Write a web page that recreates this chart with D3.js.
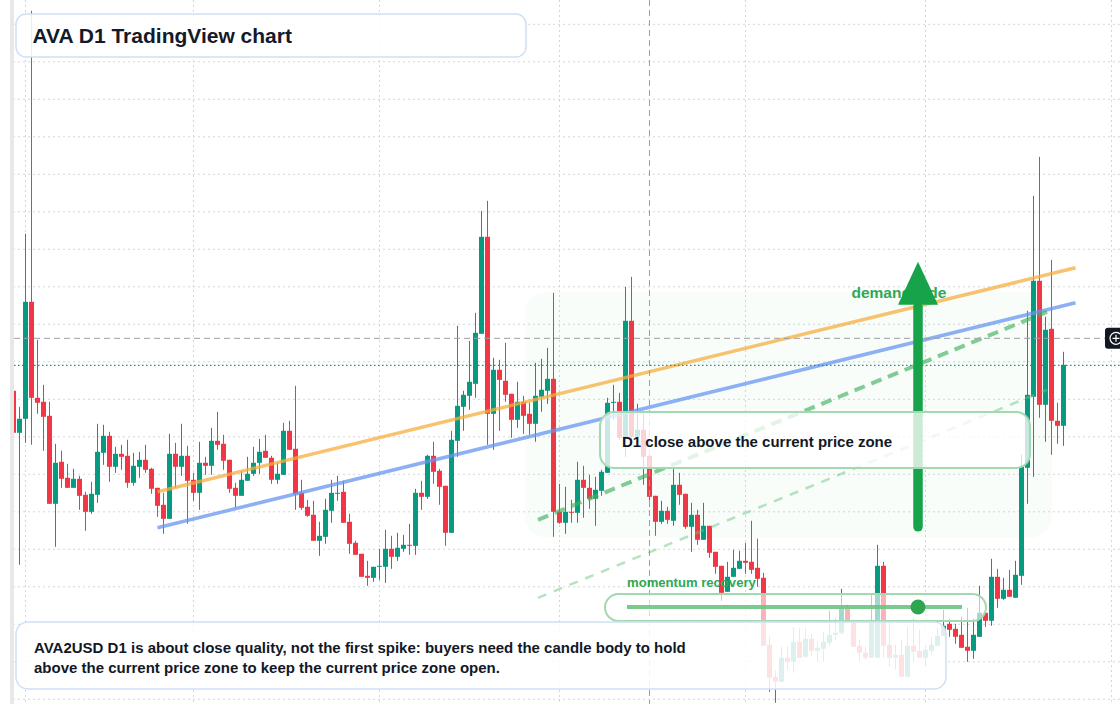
<!DOCTYPE html>
<html>
<head>
<meta charset="utf-8">
<script src="https://cdn.jsdelivr.net/npm/d3@7"></script>
<style>
html, body { margin: 0; padding: 0; background: #fff; }
#chart { width: 1120px; height: 704px; overflow: hidden; }
text { font-family: "Liberation Sans", Arial, sans-serif; font-weight: 700; }
</style>
</head>
<body>
<div id="chart"></div>
<script>
// daily candles, 2025-01-30 .. 2025-07-24
var days = d3.utcDay.range(new Date(Date.UTC(2025, 0, 30)), new Date(Date.UTC(2025, 6, 25)));

var open = [0.558,0.516,0.530,0.647,0.551,0.547,0.533,0.445,0.487,0.471,
  0.461,0.470,0.454,0.437,0.454,0.496,0.513,0.482,0.495,0.493,
  0.466,0.482,0.489,0.480,0.461,0.444,0.430,0.495,0.482,0.493,
  0.469,0.456,0.486,0.483,0.508,0.505,0.489,0.461,0.453,0.468,
  0.475,0.486,0.498,0.491,0.469,0.474,0.518,0.500,0.456,0.442,
  0.434,0.408,0.412,0.438,0.455,0.457,0.427,0.406,0.395,0.373,
  0.371,0.382,0.382,0.400,0.392,0.400,0.404,0.403,0.456,0.452,
  0.493,0.478,0.463,0.416,0.508,0.542,0.553,0.565,0.615,0.712,
  0.535,0.579,0.568,0.555,0.529,0.547,0.535,0.525,0.552,0.558,
  0.570,0.437,0.426,0.437,0.436,0.469,0.461,0.450,0.458,0.476,
  0.546,0.547,0.511,0.628,0.512,0.519,0.493,0.453,0.427,0.438,
  0.428,0.464,0.455,0.422,0.434,0.409,0.423,0.397,0.383,0.357,
  0.372,0.380,0.388,0.387,0.381,0.371,0.304,0.272,0.267,0.291,
  0.287,0.307,0.292,0.310,0.298,0.300,0.306,0.314,0.316,0.340,
  0.327,0.303,0.296,0.291,0.291,0.383,0.304,0.291,0.294,0.272,
  0.303,0.298,0.291,0.298,0.303,0.313,0.325,0.320,0.314,0.302,
  0.298,0.312,0.336,0.328,0.372,0.350,0.359,0.351,0.373,0.481,
  0.552,0.668,0.544,0.620,0.528,0.523];

var high = [0.558,0.542,0.715,0.938,0.609,0.564,0.547,0.505,0.498,0.485,
  0.480,0.473,0.457,0.467,0.525,0.524,0.517,0.502,0.504,0.509,
  0.496,0.497,0.504,0.481,0.461,0.456,0.515,0.506,0.525,0.503,
  0.476,0.507,0.492,0.521,0.537,0.514,0.489,0.466,0.478,0.492,
  0.502,0.510,0.514,0.493,0.486,0.526,0.528,0.563,0.469,0.449,
  0.448,0.427,0.450,0.469,0.473,0.468,0.435,0.408,0.395,0.388,
  0.382,0.400,0.419,0.413,0.416,0.414,0.425,0.460,0.468,0.494,
  0.507,0.480,0.463,0.518,0.623,0.558,0.608,0.636,0.738,0.748,
  0.591,0.589,0.606,0.555,0.567,0.553,0.546,0.586,0.590,0.601,
  0.656,0.465,0.462,0.449,0.487,0.483,0.474,0.472,0.479,0.551,
  0.564,0.556,0.662,0.672,0.545,0.535,0.497,0.453,0.448,0.442,
  0.481,0.476,0.455,0.446,0.439,0.446,0.423,0.397,0.383,0.387,
  0.399,0.398,0.406,0.428,0.410,0.376,0.312,0.278,0.302,0.302,
  0.322,0.321,0.321,0.315,0.308,0.317,0.338,0.330,0.360,0.344,
  0.329,0.309,0.302,0.355,0.404,0.387,0.326,0.304,0.309,0.322,
  0.330,0.319,0.304,0.312,0.321,0.339,0.330,0.325,0.332,0.341,
  0.330,0.363,0.339,0.390,0.380,0.371,0.379,0.388,0.494,0.638,
  0.753,0.792,0.632,0.689,0.546,0.597];

var low = [0.516,0.384,0.506,0.504,0.535,0.498,0.445,0.402,0.461,0.461,
  0.461,0.439,0.418,0.435,0.446,0.484,0.467,0.476,0.479,0.461,
  0.463,0.471,0.476,0.455,0.432,0.415,0.430,0.461,0.473,0.425,
  0.448,0.439,0.474,0.474,0.499,0.479,0.456,0.441,0.453,0.468,
  0.473,0.475,0.491,0.465,0.465,0.474,0.499,0.439,0.439,0.432,
  0.408,0.393,0.405,0.426,0.448,0.426,0.395,0.394,0.372,0.363,
  0.367,0.369,0.366,0.380,0.388,0.397,0.394,0.394,0.439,0.450,
  0.465,0.444,0.403,0.416,0.492,0.518,0.539,0.551,0.615,0.504,
  0.499,0.518,0.547,0.511,0.521,0.515,0.514,0.507,0.537,0.545,
  0.412,0.425,0.415,0.426,0.426,0.431,0.440,0.423,0.453,0.476,
  0.529,0.509,0.492,0.504,0.504,0.464,0.442,0.413,0.425,0.425,
  0.423,0.444,0.420,0.397,0.404,0.409,0.391,0.375,0.348,0.357,
  0.372,0.380,0.375,0.375,0.362,0.303,0.257,0.246,0.267,0.279,
  0.276,0.291,0.291,0.293,0.287,0.287,0.303,0.309,0.314,0.327,
  0.302,0.288,0.289,0.291,0.291,0.291,0.282,0.279,0.272,0.272,
  0.287,0.291,0.282,0.294,0.303,0.313,0.312,0.305,0.301,0.287,
  0.290,0.312,0.322,0.323,0.341,0.349,0.352,0.351,0.364,0.445,
  0.472,0.531,0.507,0.494,0.505,0.503];

var close = [0.516,0.530,0.647,0.551,0.546,0.532,0.445,0.486,0.470,0.461,
  0.470,0.453,0.437,0.455,0.497,0.513,0.482,0.495,0.492,0.466,
  0.483,0.489,0.479,0.460,0.443,0.430,0.495,0.482,0.493,0.468,
  0.456,0.486,0.483,0.508,0.504,0.488,0.460,0.453,0.469,0.475,
  0.486,0.497,0.491,0.469,0.475,0.518,0.499,0.455,0.441,0.433,
  0.408,0.413,0.439,0.456,0.456,0.426,0.405,0.394,0.372,0.371,
  0.382,0.383,0.400,0.392,0.401,0.404,0.403,0.456,0.452,0.493,
  0.477,0.462,0.416,0.509,0.543,0.554,0.567,0.616,0.712,0.535,
  0.579,0.569,0.554,0.529,0.547,0.533,0.525,0.553,0.559,0.570,
  0.437,0.426,0.437,0.436,0.469,0.461,0.450,0.459,0.477,0.546,
  0.547,0.511,0.628,0.512,0.519,0.492,0.452,0.427,0.438,0.429,
  0.464,0.454,0.422,0.434,0.409,0.423,0.396,0.382,0.356,0.372,
  0.381,0.388,0.386,0.379,0.370,0.303,0.271,0.267,0.291,0.287,
  0.307,0.291,0.310,0.298,0.301,0.307,0.314,0.316,0.340,0.327,
  0.302,0.296,0.291,0.329,0.383,0.303,0.291,0.294,0.272,0.303,
  0.297,0.291,0.299,0.304,0.313,0.323,0.319,0.312,0.301,0.298,
  0.314,0.336,0.328,0.372,0.350,0.359,0.352,0.374,0.482,0.554,
  0.668,0.544,0.619,0.528,0.523,0.584];

// hidden price grid (no labels on the picture)
var priceTicks = d3.range(0, 19).map(function (k) { return 0.25 + 0.0375 * k; });
var monthTicks = d3.utcMonth.range(new Date(Date.UTC(2025, 1, 1)), new Date(Date.UTC(2025, 7, 2)));

// drawings
var orangeLine = [["2025-02-23T00:00Z", 0.457], ["2025-07-26T00:00Z", 0.681]];
var blueLine = [["2025-02-23T00:00Z", 0.421], ["2025-07-26T00:00Z", 0.646]];
var channelUpper = [["2025-04-27T10:00Z", 0.429], ["2025-07-21T06:00Z", 0.637]];
var channelLower = [["2025-04-27T10:00Z", 0.351], ["2025-07-21T06:00Z", 0.559]];
var zoneDates = ["2025-04-25T06:00Z", "2025-07-22T02:00Z"];
var zonePrices = [0.657, 0.411];
var arrowDate = "2025-06-29T18:00Z";
var arrowPrices = [0.422, 0.644, 0.687];
var lastPrice = 0.5835;
var crossDate = "2025-05-16T00:00Z";
var crossPrice = 0.6105;

var noteLines = [
  "AVA2USD D1 is about close quality, not the first spike: buyers need the candle body to hold",
  "above the current price zone to keep the current price zone open."
];

var width = 1120, height = 704;
var upColor = "#089981", downColor = "#f23645";

var x = d3.scaleUtc()
  .domain([new Date(Date.UTC(2025, 1, 1)), new Date(Date.UTC(2025, 7, 1))])
  .range([25.5, 1111.5]);
var y = d3.scaleLinear()
  .domain([0.25, 0.70])
  .range([698.8, 248.8]);

var candles = days.map(function (d, i) {
  return { date: d, o: open[i], h: high[i], l: low[i], c: close[i] };
});

var svg = d3.select("#chart").append("svg")
  .attr("width", width)
  .attr("height", height);

svg.append("rect").attr("width", width).attr("height", height).attr("fill", "#fff");

// grid
var gy = svg.append("g")
  .attr("transform", "translate(" + width + ",0)")
  .call(d3.axisLeft(y).tickValues(priceTicks).tickSize(width - 14).tickFormat(""));
gy.select(".domain").remove();
gy.selectAll("line").attr("stroke", "#d3d6db").attr("stroke-dasharray", "2,3");

var gx = svg.append("g")
  .call(d3.axisBottom(x).tickValues(monthTicks).tickSize(height).tickFormat("").offset(0));
gx.select(".domain").remove();
gx.selectAll("line").attr("stroke", "#d3d6db").attr("stroke-dasharray", "2,3");

// candles
var cg = svg.append("g");
cg.selectAll("line.wick")
  .data(candles)
  .enter().append("line")
  .attr("class", "wick")
  .attr("x1", function (d) { return x(d.date); })
  .attr("x2", function (d) { return x(d.date); })
  .attr("y1", function (d) { return y(d.h); })
  .attr("y2", function (d) { return y(d.l); })
  .attr("stroke", function (d) { return d.c >= d.o ? upColor : downColor; })
  .attr("stroke-width", 1);

cg.selectAll("rect.body")
  .data(candles)
  .enter().append("rect")
  .attr("class", "body")
  .attr("x", function (d) { return x(d.date) - 2.5; })
  .attr("width", 5)
  .attr("y", function (d) { return y(Math.max(d.o, d.c)); })
  .attr("height", function (d) { return Math.max(1, Math.abs(y(d.o) - y(d.c))); })
  .attr("fill", function (d) { return d.c >= d.o ? upColor : downColor; });

// demand zone
svg.append("rect")
  .attr("x", x(new Date(zoneDates[0])))
  .attr("y", y(zonePrices[0]))
  .attr("width", x(new Date(zoneDates[1])) - x(new Date(zoneDates[0])))
  .attr("height", y(zonePrices[1]) - y(zonePrices[0]))
  .attr("rx", 22)
  .attr("fill", "#22c55e")
  .attr("fill-opacity", 0.03);

var line = d3.line()
  .x(function (d) { return x(new Date(d[0])); })
  .y(function (d) { return y(d[1]); });

svg.append("path").attr("d", line(orangeLine))
  .attr("stroke", "#f5ae3d").attr("stroke-opacity", 0.75).attr("stroke-width", 3.5).attr("fill", "none");
svg.append("path").attr("d", line(blueLine))
  .attr("stroke", "#6795f0").attr("stroke-opacity", 0.75).attr("stroke-width", 3.5).attr("fill", "none");
svg.append("path").attr("d", line(channelUpper))
  .attr("stroke", "#3fb25e").attr("stroke-opacity", 0.65).attr("stroke-width", 4)
  .attr("stroke-dasharray", "11,7").attr("fill", "none");
svg.append("path").attr("d", line(channelLower))
  .attr("stroke", "#6cc785").attr("stroke-opacity", 0.5).attr("stroke-width", 2.5)
  .attr("stroke-dasharray", "9,8").attr("fill", "none");

// last price and crosshair
svg.append("line")
  .attr("x1", 14).attr("x2", width)
  .attr("y1", y(lastPrice)).attr("y2", y(lastPrice))
  .attr("stroke", upColor).attr("stroke-width", 1.3).attr("stroke-dasharray", "1.5,2.5");
svg.append("line")
  .attr("x1", 14).attr("x2", width)
  .attr("y1", y(crossPrice)).attr("y2", y(crossPrice))
  .attr("stroke", "#9a9ea6").attr("stroke-width", 1).attr("stroke-dasharray", "6,4");
svg.append("line")
  .attr("x1", x(new Date(crossDate))).attr("x2", x(new Date(crossDate)))
  .attr("y1", 0).attr("y2", height)
  .attr("stroke", "#9a9ea6").attr("stroke-width", 1).attr("stroke-dasharray", "6,4");

// demand side label + arrow
var ax = x(new Date(arrowDate));
svg.append("text")
  .attr("x", 851.5).attr("y", 297.7)
  .attr("fill", "#2fa852").attr("font-size", 15.5)
  .text("demand side");
svg.append("line")
  .attr("x1", ax).attr("x2", ax)
  .attr("y1", y(arrowPrices[0])).attr("y2", y(arrowPrices[1]) + 2)
  .attr("stroke", "#16a34a").attr("stroke-width", 9.5).attr("stroke-linecap", "round");
svg.append("path")
  .attr("d", "M" + (ax - 20) + "," + y(arrowPrices[1]) + "L" + ax + "," + y(arrowPrices[2]) + "L" + (ax + 20) + "," + y(arrowPrices[1]) + "Z")
  .attr("fill", "#16a34a");

// callout
svg.append("rect")
  .attr("x", 600).attr("y", 412).attr("width", 430).attr("height", 56).attr("rx", 14)
  .attr("fill", "#fff").attr("fill-opacity", 0.78)
  .attr("stroke", "#a3d9b0").attr("stroke-width", 2);
svg.append("text")
  .attr("x", 622).attr("y", 446.5)
  .attr("fill", "#111827").attr("font-size", 15)
  .text("D1 close above the current price zone");

// momentum recovery slider
svg.append("text")
  .attr("x", 627).attr("y", 587)
  .attr("fill", "#2fa852").attr("font-size", 13.1)
  .text("momentum recovery");
svg.append("rect")
  .attr("x", 605).attr("y", 594).attr("width", 381).attr("height", 27).attr("rx", 13.5)
  .attr("fill", "#fff").attr("fill-opacity", 0.62)
  .attr("stroke", "#a3d9b0").attr("stroke-width", 2);
svg.append("line")
  .attr("x1", 627).attr("x2", 962).attr("y1", 607).attr("y2", 607)
  .attr("stroke", "#6cc482").attr("stroke-width", 4).attr("stroke-opacity", 0.9);
svg.append("circle")
  .attr("cx", ax).attr("cy", 607).attr("r", 7.5)
  .attr("fill", "#2ea650");

// note
svg.append("rect")
  .attr("x", 16).attr("y", 622).attr("width", 930).attr("height", 67).attr("rx", 12)
  .attr("fill", "#fff").attr("fill-opacity", 0.86)
  .attr("stroke", "#d0e0f5").attr("stroke-width", 1.5);
svg.append("g").selectAll("text")
  .data(noteLines)
  .enter().append("text")
  .attr("x", 34)
  .attr("y", function (d, i) { return 652.5 + i * 20; })
  .attr("fill", "#111827").attr("font-size", 15)
  .text(function (d) { return d; });

// title
svg.append("rect")
  .attr("x", 16).attr("y", 14).attr("width", 510).attr("height", 43).attr("rx", 10)
  .attr("fill", "#fff").attr("fill-opacity", 0.88)
  .attr("stroke", "#d0e0f5").attr("stroke-width", 1.5);
svg.append("text")
  .attr("x", 32.5).attr("y", 43.3)
  .attr("fill", "#131a2a").attr("font-size", 21)
  .text("AVA D1 TradingView chart");

// left edge strip
svg.append("rect").attr("x", 10).attr("y", 0).attr("width", 4).attr("height", height).attr("fill", "#e8e8e8");

// crosshair price tag
var tag = svg.append("g").attr("transform", "translate(1105," + (y(crossPrice) - 10.5) + ")");
tag.append("rect").attr("width", 20).attr("height", 21).attr("rx", 3).attr("fill", "#131722");
tag.append("circle").attr("cx", 11).attr("cy", 10.5).attr("r", 6)
  .attr("fill", "none").attr("stroke", "#fff").attr("stroke-width", 1.2);
tag.append("path").attr("d", "M7.5,10.5H14.5M11,7V14")
  .attr("stroke", "#fff").attr("stroke-width", 1.2);
</script>
</body>
</html>
